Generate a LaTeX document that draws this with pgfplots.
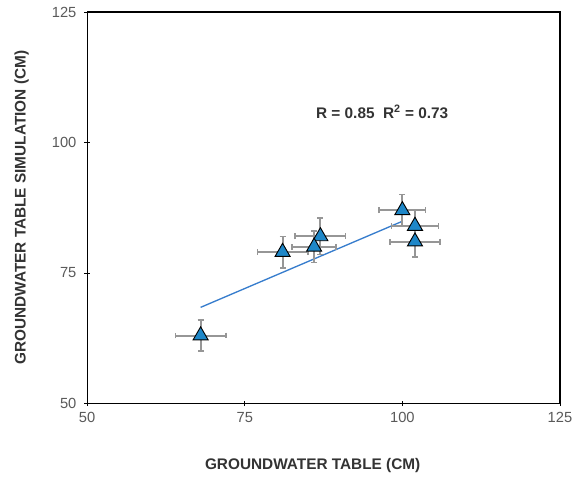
\documentclass[border=0pt]{standalone}
\usepackage{fontspec}
\setmainfont{Liberation Sans}
\usepackage{pgfplots}
\pgfplotsset{compat=1.18}
\usetikzlibrary{calc}
\definecolor{tri}{RGB}{30,135,200}
\definecolor{fitline}{RGB}{55,125,205}
\definecolor{ebar}{RGB}{150,150,150}
\begin{document}
\begin{tikzpicture}
\begin{axis}[
  scale only axis,
  width=354pt, height=293pt,
  xmin=50, xmax=125, ymin=50, ymax=125,
  xtick={50,75,100,125}, ytick={50,75,100,125},
  tick align=center,
  xtick pos=bottom, ytick pos=left,
  major tick length=4pt,
  axis line style={black, line width=0.9pt},
  tick style={black, line width=0.6pt},
  /pgf/number format/assume math mode=true,
  ticklabel style={font=\fontsize{11}{13}\selectfont, text=black!65},
  xticklabel style={yshift=-1pt},
  yticklabel style={xshift=-2.5pt},
  xlabel={\textbf{GROUNDWATER TABLE (CM)}},
  ylabel={\textbf{GROUNDWATER TABLE SIMULATION (CM)}},
  label style={font=\fontsize{11.5}{13}\selectfont, text=black!80},
  xlabel style={at={(axis description cs:0.477,0)}, anchor=center, yshift=-46.5pt},
  ylabel style={at={(axis description cs:0,0.5)}, anchor=center, yshift=49pt},
  every error bar/.style={draw=ebar, line width=1.5pt},
]
\addplot[fitline, line width=1pt] coordinates {(68,68.4) (100,84.9)};
\addplot[draw=ebar, line width=1.5pt, only marks,
  mark=triangle*, mark size=6.5pt,
  mark options={fill=tri, draw=black, line width=0.7pt},
  error bars/.cd,
    x dir=both, x explicit, y dir=both, y explicit,
    error mark options={draw=ebar, line width=1.2pt, mark size=2.2pt, rotate=90},
] coordinates {
  (68,63) +- (4,3)
  (81,79) +- (4,3)
  (87,82) +- (4,3.5)
  (86,80) +- (3.5,3)
  (100,87) +- (3.7,3)
  (102,84) +- (3.7,3)
  (102,81) +- (4,3)
};
\node[font=\bfseries\fontsize{11.5}{13}\selectfont, text=black!80] at (axis cs:96.8,105.9) {R = 0.85\ \ R\textsuperscript{2} = 0.73};
\end{axis}
\pgfresetboundingbox
\path ($(current axis.south west)+(-65.25pt,-54.75pt)$) rectangle ($(current axis.north east)+(9.75pt,9pt)$);
\end{tikzpicture}
\end{document}
